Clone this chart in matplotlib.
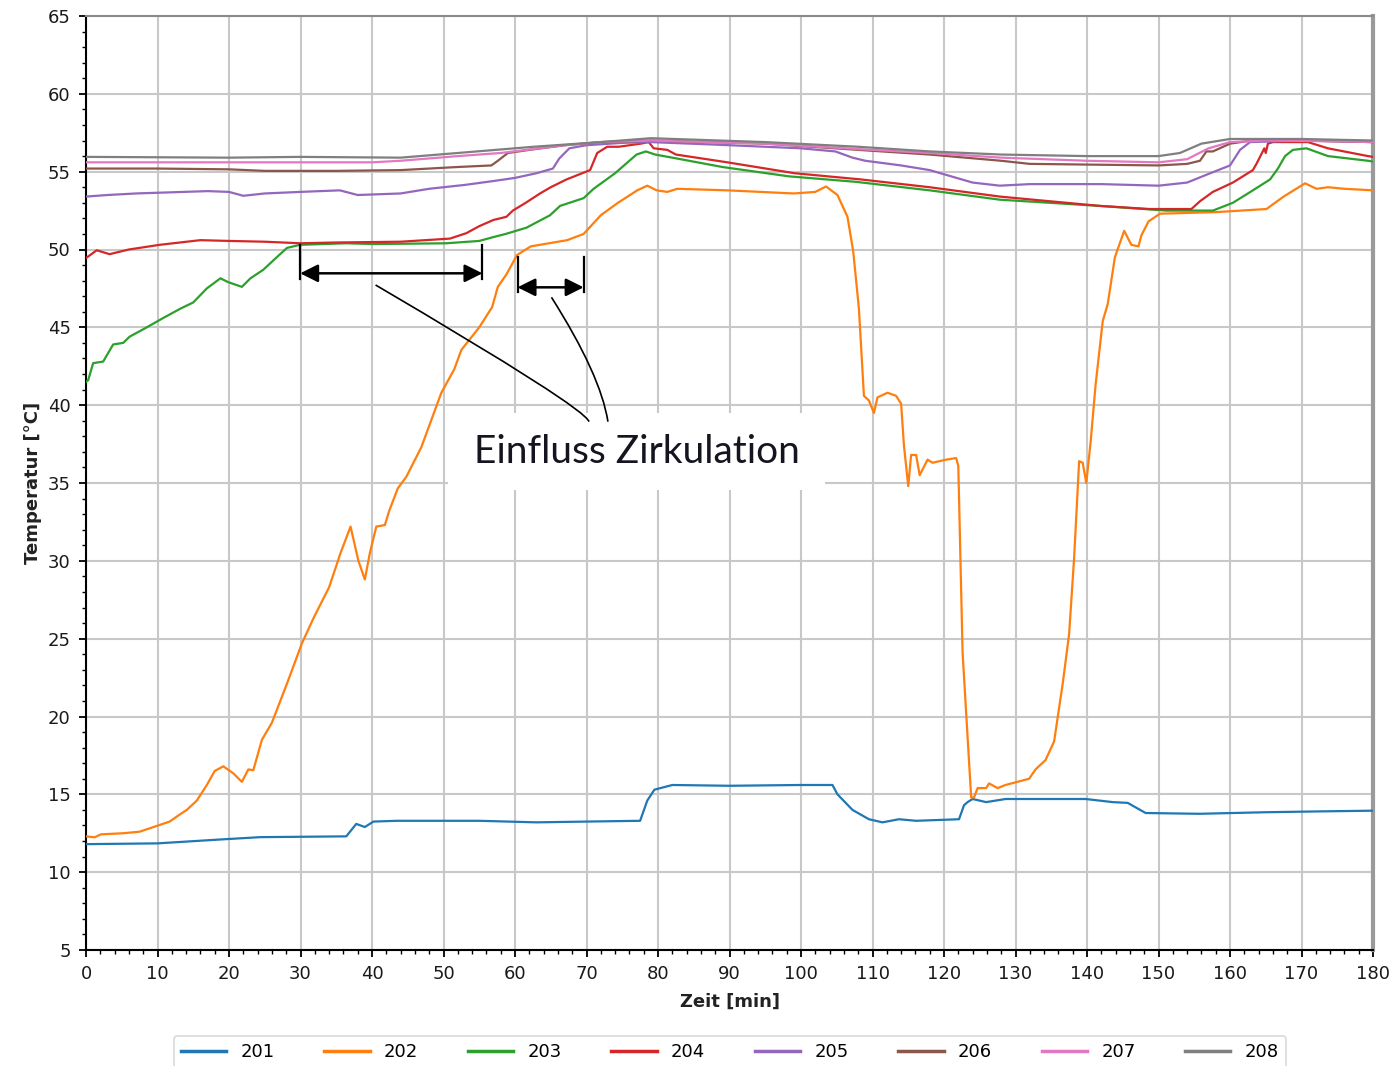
import matplotlib
matplotlib.use("Agg")
import matplotlib.pyplot as plt
from matplotlib.patches import Rectangle, PathPatch
from matplotlib.path import Path
from matplotlib.ticker import MultipleLocator

# sensor readings, time in minutes, temperature in degC
t_201 = [0, 10, 18.8, 24.4, 36.4, 37.8, 39.0, 40.2, 43.5, 55, 63, 70, 77.5, 78.5, 79.5, 82,
         90, 99.9, 104.4, 105.1, 107.2, 109.5, 111.4, 113.7, 116.1, 122.1, 122.8, 123.3, 124,
         125.9, 128.6, 139.8, 143.6, 145.7, 148.2, 155.7, 165, 172, 180]
T_201 = [11.8, 11.85, 12.1, 12.25, 12.3, 13.1, 12.9, 13.25, 13.3, 13.3, 13.2, 13.25, 13.3, 14.6,
         15.3, 15.6, 15.55, 15.6, 15.6, 15.0, 14.0, 13.4, 13.2, 13.4, 13.3, 13.4, 14.3, 14.5, 14.7,
         14.5, 14.7, 14.7, 14.5, 14.45, 13.8, 13.75, 13.85, 13.9, 13.95]

t_202 = [0, 1.2, 2.1, 5.2, 7.5, 9.9, 11.7, 13.1, 14.1, 15.5, 16.9, 18.0, 19.2, 20.6, 21.8, 22.7,
         23.4, 24.6, 26.0, 28.1, 30.2, 31.8, 34.0, 35.6, 37.0, 38.1, 39.0, 39.7, 40.6, 41.8, 42.4,
         43.6, 44.8, 46.9, 49.7, 51.5, 52.5, 55.0, 56.8, 57.6, 58.8, 60.3, 62.2, 67.3, 69.6, 72.0,
         74.4, 77.1, 78.5, 79.8, 81.3, 82.7, 89.7, 99.0, 102.0, 103.5, 105.1, 106.5, 107.3, 108.1,
         108.8, 109.5, 110.2, 110.7, 112.1, 113.3, 114.0, 114.4, 115.0, 115.4, 116.1, 116.6, 117.7,
         118.4, 120.3, 121.7, 122.0, 122.6, 123.8, 124.2, 124.7, 125.9, 126.3, 127.5, 128.6, 131.9,
         132.8, 134.2, 135.4, 136.6, 137.5, 138.2, 138.9, 139.4, 139.9, 140.5, 141.2, 142.2, 142.9,
         143.9, 145.2, 146.2, 147.2, 147.6, 148.6, 150.2, 158.0, 165.1, 167.5, 170.5, 172.1, 173.7,
         176.0, 180.0]
T_202 = [12.3, 12.24, 12.43, 12.5, 12.6, 12.97, 13.25, 13.7, 14.0, 14.6, 15.6, 16.5, 16.8, 16.35,
         15.8, 16.6, 16.55, 18.5, 19.6, 22.1, 24.7, 26.3, 28.3, 30.5, 32.2, 30.0, 28.8, 30.5, 32.2,
         32.3, 33.2, 34.65, 35.4, 37.3, 40.8, 42.3, 43.55, 45.0, 46.3, 47.6, 48.4, 49.65, 50.2, 50.6,
         51.0, 52.2, 53.0, 53.8, 54.1, 53.8, 53.7, 53.9, 53.8, 53.6, 53.7, 54.05, 53.5, 52.1, 49.9,
         46.2, 40.6, 40.3, 39.5, 40.5, 40.8, 40.6, 40.1, 37.4, 34.8, 36.8, 36.8, 35.5, 36.5, 36.3,
         36.5, 36.6, 36.1, 24.1, 14.8, 14.8, 15.4, 15.4, 15.7, 15.4, 15.6, 16.0, 16.6, 17.2, 18.4,
         22.1, 25.3, 30.2, 36.4, 36.3, 35.0, 37.6, 41.3, 45.4, 46.5, 49.5, 51.2, 50.3, 50.2, 50.9,
         51.8, 52.3, 52.4, 52.6, 53.4, 54.25, 53.9, 54.0, 53.9, 53.8]

t_203 = [0, 0.3, 1.0, 2.4, 3.8, 5.2, 6.1, 8.5, 10.8, 13.2, 15.0, 16.9, 18.8, 19.9, 21.8, 23.0,
         24.8, 26.2, 28.1, 29.9, 36.4, 40.2, 50.4, 55.0, 57.0, 58.7, 61.6, 64.9, 66.3, 69.6, 71.0,
         74.0, 75.5, 77.0, 78.3, 79.6, 82.0, 89.0, 98.3, 107.6, 118.0, 127.8, 141.8, 151.1, 157.6,
         160.4, 163.2, 165.6, 166.7, 167.7, 168.8, 170.7, 173.7, 179.3, 180]
T_203 = [41.5, 41.6, 42.7, 42.8, 43.9, 44.0, 44.4, 45.0, 45.6, 46.2, 46.6, 47.5, 48.15, 47.9, 47.6,
         48.15, 48.7, 49.3, 50.1, 50.3, 50.4, 50.35, 50.4, 50.55, 50.8, 51.0, 51.4, 52.2, 52.8, 53.3,
         53.9, 54.9, 55.5, 56.1, 56.3, 56.1, 55.9, 55.3, 54.7, 54.35, 53.8, 53.2, 52.8, 52.5, 52.5,
         53.0, 53.8, 54.5, 55.2, 56.0, 56.4, 56.5, 56.0, 55.7, 55.65]

t_204 = [0, 1.5, 3.3, 6.0, 10.3, 16.0, 20.0, 25.0, 30.0, 35.0, 44.0, 50.9, 53.2, 55.0, 57.0, 58.8,
         59.7, 61.5, 63.5, 65.0, 67.2, 70.5, 71.5, 72.9, 74.5, 77.6, 78.7, 79.4, 81.3, 82.5, 89.7,
         99.1, 108.4, 118.0, 127.8, 134.8, 141.8, 148.8, 154.6, 155.8, 156.7, 157.6, 160.4, 163.2,
         163.7, 164.8, 165.0, 165.3, 166.0, 170.9, 173.7, 179.3, 180]
T_204 = [49.45, 49.95, 49.7, 50.0, 50.3, 50.6, 50.55, 50.5, 50.4, 50.45, 50.5, 50.7, 51.05, 51.5,
         51.9, 52.1, 52.5, 53.0, 53.6, 54.0, 54.5, 55.1, 56.2, 56.6, 56.6, 56.8, 56.9, 56.5, 56.4,
         56.1, 55.6, 54.9, 54.5, 54.0, 53.4, 53.1, 52.8, 52.6, 52.6, 53.1, 53.4, 53.7, 54.3, 55.1,
         55.5, 56.5, 56.2, 56.8, 56.9, 56.9, 56.5, 56.0, 55.95]

t_205 = [0, 3, 7, 17, 20, 22, 25, 30, 35.5, 38, 44, 48, 53, 57, 60, 63, 65.3, 66.2, 67.6, 70, 75,
         79, 90, 100, 104.8, 107.2, 109, 114, 118, 121, 124, 127.8, 132, 142, 150, 154, 156.7, 160,
         161.4, 162.8, 170, 180]
T_205 = [53.4, 53.5, 53.6, 53.75, 53.7, 53.45, 53.6, 53.7, 53.8, 53.5, 53.6, 53.9, 54.15, 54.4,
         54.6, 54.9, 55.2, 55.85, 56.5, 56.7, 56.85, 56.9, 56.7, 56.5, 56.3, 55.9, 55.7, 55.4, 55.1,
         54.7, 54.3, 54.1, 54.2, 54.2, 54.1, 54.3, 54.8, 55.4, 56.4, 56.9, 57.0, 56.9]

t_206 = [0, 10, 20, 25, 35, 44, 52, 56.7, 57.6, 59, 62, 67, 72, 79, 95, 108, 118, 128, 132, 150,
         154, 155.8, 156.7, 157.6, 160, 163, 170, 180]
T_206 = [55.2, 55.2, 55.15, 55.05, 55.05, 55.1, 55.3, 55.4, 55.7, 56.2, 56.4, 56.7, 56.9, 57.0,
         56.8, 56.4, 56.1, 55.7, 55.5, 55.4, 55.5, 55.7, 56.3, 56.3, 56.8, 57.0, 57.0, 56.9]

t_207 = [0, 20, 40, 44, 52, 58, 67, 72, 79, 95, 108, 118, 128, 140, 150, 154, 157, 160, 165, 175,
         180]
T_207 = [55.6, 55.6, 55.6, 55.7, 56.0, 56.2, 56.7, 56.9, 57.0, 56.8, 56.45, 56.2, 55.9, 55.7, 55.6,
         55.8, 56.5, 56.9, 57.0, 56.95, 56.9]

t_208 = [0, 20, 30, 44, 52, 62.6, 72, 79, 95, 108, 118, 128, 140, 150, 153, 156, 160, 170, 180]
T_208 = [55.95, 55.9, 55.95, 55.9, 56.2, 56.6, 56.9, 57.15, 56.9, 56.6, 56.3, 56.1, 56.0, 56.0,
         56.2, 56.8, 57.1, 57.1, 57.0]

series = [("201", t_201, T_201, "#1f77b4"), ("202", t_202, T_202, "#ff7f0e"),
          ("203", t_203, T_203, "#2ca02c"), ("204", t_204, T_204, "#d62728"),
          ("205", t_205, T_205, "#9467bd"), ("206", t_206, T_206, "#8c564b"),
          ("207", t_207, T_207, "#e377c2"), ("208", t_208, T_208, "#7f7f7f")]

fig = plt.figure(figsize=(13.99, 10.66), dpi=100)
ax = fig.add_axes([86 / 1399, 1 - 950 / 1066, (1373 - 86) / 1399, (950 - 16) / 1066])

for name, t, T, c in series:
    ax.plot(t, T, color=c, lw=1.6, label=name, zorder=3, solid_joinstyle="round")

ax.set_xlim(0, 180)
ax.set_ylim(5, 65)
ax.xaxis.set_major_locator(MultipleLocator(10))
ax.xaxis.set_minor_locator(MultipleLocator(2))
ax.yaxis.set_major_locator(MultipleLocator(5))
ax.yaxis.set_minor_locator(MultipleLocator(1))
ax.set_axisbelow(True)
ax.grid(True, which="major", color="#c8c8c8", lw=1.5)
ax.tick_params(which="major", length=5, width=1.3, labelsize=13, pad=6, labelcolor="#1a1a1a")
ax.tick_params(which="minor", length=3, width=1.0)

for side in ("left", "bottom"):
    ax.spines[side].set_color("black")
    ax.spines[side].set_linewidth(1.5)
ax.spines["top"].set_color("#8a8a8a")
ax.spines["top"].set_linewidth(1.5)
ax.spines["right"].set_color("#9a9a9a")
ax.spines["right"].set_linewidth(3)

ax.set_xlabel("Zeit [min]", fontsize=13, fontweight="bold", color="#222222", labelpad=7)
ax.set_ylabel("Temperatur [°C]", fontsize=13, fontweight="bold", color="#222222", labelpad=4)

# white field behind the annotation text
ax.add_patch(Rectangle((50.6, 34.55), 52.8, 4.95, facecolor="white", edgecolor="none", zorder=1))
ax.text(77.1, 37.0, "Einfluss Zirkulation", fontsize=28, family="Lato", ha="center",
        va="center", color="#151520", zorder=4)

# range markers
for x0, x1, ya, yb0, yb1 in [(29.95, 55.45, 48.47, 48.1, 50.29), (60.35, 69.6, 47.57, 47.29, 49.54)]:
    ax.plot([x0, x0], [yb0, yb1], color="black", lw=1.6, zorder=5)
    ax.plot([x1, x1], [yb0, yb1], color="black", lw=1.6, zorder=5)
    ax.annotate("", xy=(x1, ya), xytext=(x0, ya),
                arrowprops=dict(arrowstyle="<|-|>,head_length=0.6,head_width=0.3",
                                mutation_scale=18, color="black", lw=1.8,
                                shrinkA=0, shrinkB=0), zorder=5)

# leader lines to the text
for p0, pc, p2 in [((40.5, 47.72), (69.8, 39.83), (70.35, 38.94)),
                   ((65.1, 46.93), (72.0, 41.93), (73.0, 38.94))]:
    path = Path([p0, pc, p2], [Path.MOVETO, Path.CURVE3, Path.CURVE3])
    ax.add_patch(PathPatch(path, facecolor="none", edgecolor="black", lw=1.2, zorder=5))

leg = fig.legend(loc="upper center", bbox_to_anchor=(730 / 1399, 1 - 1027 / 1066), ncol=8,
                 fontsize=13, frameon=True, handlelength=2.5, handletextpad=0.8,
                 columnspacing=2.75, borderpad=0.4, fancybox=True)
leg.get_frame().set_edgecolor("#d0d0d0")
leg.get_frame().set_linewidth(1.2)
for line in leg.get_lines():
    line.set_linewidth(2.5)

fig.savefig("out.png", dpi=100)
